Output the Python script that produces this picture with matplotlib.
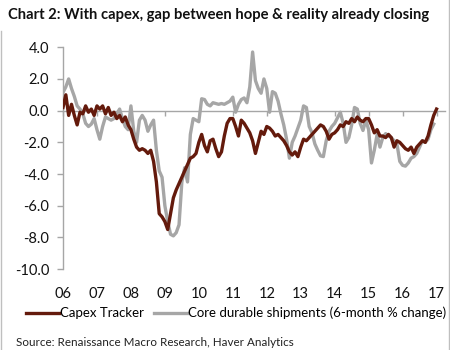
import matplotlib.pyplot as plt
import numpy as np
from matplotlib.lines import Line2D

TITLE = "Chart 2: With capex, gap between hope & reality already closing"
SOURCE = "Source: Renaissance Macro Research, Haver Analytics"
YEAR_LABELS = ["06", "07", "08", "09", "10", "11", "12", "13", "14", "15", "16", "17"]
Y_TICKS = [4, 2, 0, -2, -4, -6, -8, -10]

# monthly, Jan 2006 onwards
capex_tracker = [
    0.2, 1.0, -0.3, 0.4, -0.3, -0.9, -0.1, -0.2, 0.3, -0.1, 0.1, -0.3,
    0.3, 0.1, 0.3, -0.2, 0.2, -0.3, -0.1, -0.5, -0.3, -0.7, -0.4, -0.9,
    -1.2, -1.8, -2.3, -2.5, -2.4, -2.5, -2.7, -2.5, -3.2, -4.5, -6.5, -6.7,
    -7.0, -7.5, -6.5, -5.5, -5.0, -4.6, -4.2, -3.8, -3.4, -3.0, -2.9, -2.7,
    -2.0, -1.5, -2.2, -2.6, -1.9, -1.8, -2.4, -2.9, -2.6, -1.6, -0.8, -0.5,
    -0.5, -1.0, -1.6, -0.6, -0.8, -1.1, -1.4, -1.9, -2.7, -2.0, -1.3, -1.5,
    -1.0, -1.1, -1.3, -1.6, -1.5, -1.7, -1.9, -2.2, -2.6, -2.8, -2.6, -2.9,
    -2.3, -1.8, -1.9, -1.7, -1.5, -1.3, -1.1, -0.9, -1.0, -1.3, -1.8, -1.5,
    -1.4, -1.2, -0.9, -1.0, -0.7, -0.8, -0.5, -0.7, -0.4, -0.6, -0.7, -0.5,
    -0.5, -0.9, -1.4, -1.2, -1.6, -1.6, -1.7, -1.5, -1.7, -2.3, -1.9, -2.0,
    -2.2, -2.4, -2.5, -2.3, -2.7, -2.3, -2.1, -1.9, -2.0, -1.6, -0.9, -0.3,
    0.1,
]

core_shipments = [
    1.15, 1.5, 2.0, 1.4, 0.9, 0.3, 0.1, -0.2, -0.8, -1.0, -0.85, -0.5,
    -1.2, -1.8, -1.0, -0.4, -0.5, -0.6, -0.5, -0.2, 0.1, -0.5, -1.0, -1.2,
    0.3, -1.3, -2.0, -0.6, -0.3, -0.6, -1.3, -0.9, -0.6, -2.5, -3.8, -4.2,
    -6.0, -7.0, -7.8, -7.9, -7.7, -7.2, -4.5, -3.6, -4.5, -1.5, -0.5, -0.6,
    -0.7, 0.75, 0.7, 0.4, 0.3, 0.5, 0.45, 0.4, 0.45, 0.4, 0.5, 0.6,
    0.85, -0.1, 0.4, 0.7, 0.8, 0.5, 1.5, 3.7, 1.9, 1.4, 1.1, 2.0,
    1.4, -0.1, 1.2, 1.1, 0.6, -0.2, -0.9, -1.8, -3.0, -2.0, -1.6, -1.1,
    -0.6, 0.3, 0.2, -1.0, -1.4, -2.1, -2.5, -2.85, -2.9, -1.9, -1.3, -1.0,
    -0.8, -0.45, -0.1, -0.8, -2.0, -1.7, -0.9, 0.2, 0.1, -0.8, -1.25, -0.6,
    -1.2, -3.3, -2.5, -1.5, -2.3, -1.7, -1.45, -1.6, -1.7, -1.9, -2.1, -3.2,
    -3.45, -3.5, -3.3, -3.0, -2.9, -2.7, -2.3, -1.9, -2.0, -1.8, -1.2, -0.85,
]

RED = "#641a0c"
GREY = "#a6a6a6"
AXIS = "#a6a6a6"


def main() -> None:
    plt.rcParams["font.family"] = ["Lato", "DejaVu Sans"]
    plt.rcParams["axes.unicode_minus"] = False

    fig = plt.figure(figsize=(4.5, 3.5), dpi=100)
    ax = fig.add_axes([0.14, 0.231, 0.849, 0.634])

    t_capex = 2006 + np.arange(len(capex_tracker)) / 12
    t_core = 2006 + np.arange(len(core_shipments)) / 12
    ax.plot(t_capex, capex_tracker, color=RED, linewidth=2.4, solid_joinstyle="round", zorder=3)
    ax.plot(t_core, core_shipments, color=GREY, linewidth=2.4, solid_joinstyle="round", zorder=2)

    ax.set_ylim(-10, 4)
    ax.set_xlim(2006, 2006 + 135 / 12)
    ax.set_yticks(Y_TICKS)
    ax.set_yticklabels([f"{v:.1f}" for v in Y_TICKS])

    for side in ("top", "right"):
        ax.spines[side].set_visible(False)
    ax.spines["left"].set_color(AXIS)
    ax.spines["bottom"].set_color(AXIS)
    ax.spines["bottom"].set_position(("data", 0))
    ax.spines["left"].set_linewidth(1.0)
    ax.spines["bottom"].set_linewidth(1.0)

    years = 2006 + np.arange(len(YEAR_LABELS))
    ax.set_xticks(years)
    ax.tick_params(axis="x", labelbottom=False, length=3.5, color=AXIS, width=1.0)
    ax.tick_params(axis="y", length=4, color=AXIS, width=1.0, pad=6, labelsize=10.5, labelcolor="#111111")

    sec = ax.secondary_xaxis("bottom")
    sec.set_xticks(years, YEAR_LABELS)
    sec.spines["bottom"].set_visible(False)
    sec.tick_params(length=0, pad=13, labelsize=10.5, labelcolor="#111111")

    fig.text(0.018, 0.957, TITLE, fontsize=10.6, fontweight="bold", va="center", ha="left", color="#111111")
    fig.text(0.035, 0.02, SOURCE, fontsize=8.4, va="center", ha="left", color="#222222")

    handles = [
        Line2D([], [], color=RED, linewidth=2.4),
        Line2D([], [], color=GREY, linewidth=2.4),
    ]
    fig.legend(
        handles,
        ["Capex Tracker", "Core durable shipments (6-month % change)"],
        loc="center left",
        bbox_to_anchor=(0.058, 0.106),
        ncol=2,
        frameon=False,
        fontsize=9.5,
        handlelength=2.5,
        handletextpad=0.1,
        columnspacing=0.7,
        borderpad=0,
        borderaxespad=0,
    )

    # frame of the original exhibit box
    fig.add_artist(Line2D([0.002, 0.002], [0.0, 0.912], color="#bfbfbf", linewidth=1.0))
    fig.add_artist(Line2D([0.997, 0.997], [0.0, 1.0], color="#bfbfbf", linewidth=1.0))

    fig.savefig("out.png", dpi=100)
    plt.close(fig)


if __name__ == "__main__":
    main()
